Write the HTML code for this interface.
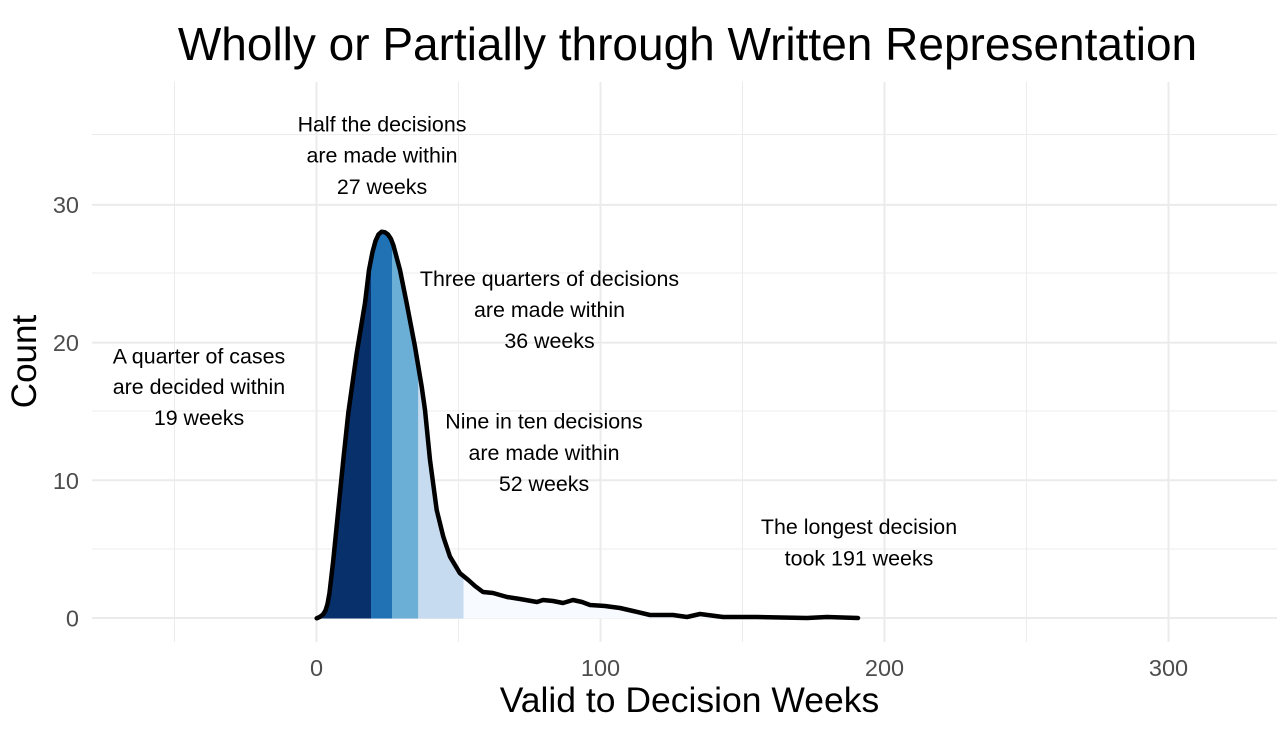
<!DOCTYPE html>
<html>
<head>
<meta charset="utf-8">
<style>
  html, body { margin: 0; padding: 0; background: #ffffff; }
  svg { display: block; }
  text { font-family: "Liberation Sans", Arial, sans-serif; }
</style>
</head>
<body>
<svg width="1277" height="734" viewBox="0 0 1277 734" xmlns="http://www.w3.org/2000/svg">
  <rect x="0" y="0" width="1277" height="734" fill="#ffffff"/>

  <!-- minor gridlines -->
  <g stroke="#ececec" stroke-width="1">
    <line x1="92" y1="134.5" x2="1277" y2="134.5"/>
    <line x1="92" y1="273" x2="1277" y2="273"/>
    <line x1="92" y1="411" x2="1277" y2="411"/>
    <line x1="92" y1="549" x2="1277" y2="549"/>
    <line x1="174.5" y1="82" x2="174.5" y2="642"/>
    <line x1="458.5" y1="82" x2="458.5" y2="642"/>
    <line x1="742.5" y1="82" x2="742.5" y2="642"/>
    <line x1="1026.5" y1="82" x2="1026.5" y2="642"/>
  </g>
  <!-- major gridlines -->
  <g stroke="#ebebeb" stroke-width="2">
    <line x1="92" y1="618" x2="1277" y2="618"/>
    <line x1="92" y1="480.3" x2="1277" y2="480.3"/>
    <line x1="92" y1="342.6" x2="1277" y2="342.6"/>
    <line x1="92" y1="204.9" x2="1277" y2="204.9"/>
    <line x1="316.5" y1="82" x2="316.5" y2="642"/>
    <line x1="600.5" y1="82" x2="600.5" y2="642"/>
    <line x1="884.5" y1="82" x2="884.5" y2="642"/>
    <line x1="1168.5" y1="82" x2="1168.5" y2="642"/>
  </g>

  <defs>
    <clipPath id="area">
      <path d="M316.7,618.3 L320,616.8 L323,614.5 L325.5,610.5 L327.5,604 L329.5,593 L333.3,560 L338.3,510 L343.3,460 L348.3,413 L356.7,353.3 L365,303 L369,270 L372.5,252 L375.5,241 L378.5,234.5 L381.7,231.7 L385,232.3 L388,234.5 L391,239 L393.3,245 L400,270 L406.7,303.3 L415,346.7 L421.7,386.7 L425,410 L430,460 L436.7,510 L443.3,536.7 L450,556.7 L460,573.3 L468.3,580 L475,586 L483,592 L493,593 L507,597 L520,599 L537,602 L543,600 L553,601 L563,603 L573,600 L582,602 L590,605 L605,606 L620,608 L633,611 L650,615 L673,615 L687,617 L700,614 L723,617 L757,617 L807,618 L827,617 L858,618 L858,618.5 L316.7,618.5 Z"/>
    </clipPath>
  </defs>

  <g clip-path="url(#area)">
    <rect x="310" y="200" width="61" height="420" fill="#08306b"/>
    <rect x="371" y="200" width="21" height="420" fill="#2171b5"/>
    <rect x="392" y="200" width="26.3" height="420" fill="#6baed6"/>
    <rect x="418.3" y="200" width="45.2" height="420" fill="#c6dbef"/>
    <rect x="463.5" y="200" width="400" height="420" fill="#f7fbff"/>
  </g>

  <!-- density curve -->
  <polyline fill="none" stroke="#000000" stroke-width="4.5" stroke-linejoin="round" stroke-linecap="round"
    points="316.7,618.3 320,616.8 323,614.5 325.5,610.5 327.5,604 329.5,593 333.3,560 338.3,510 343.3,460 348.3,413 356.7,353.3 365,303 369,270 372.5,252 375.5,241 378.5,234.5 381.7,231.7 385,232.3 388,234.5 391,239 393.3,245 400,270 406.7,303.3 415,346.7 421.7,386.7 425,410 430,460 436.7,510 443.3,536.7 450,556.7 460,573.3 468.3,580 475,586 483,592 493,593 507,597 520,599 537,602 543,600 553,601 563,603 573,600 582,602 590,605 605,606 620,608 633,611 650,615 673,615 687,617 700,614 723,617 757,617 807,618 827,617 858,618"/>

  <!-- title -->
  <text x="687.5" y="60" font-size="46" text-anchor="middle" fill="#000">Wholly or Partially through Written Representation</text>

  <!-- y tick labels -->
  <g font-size="23.5" fill="#4d4d4d" text-anchor="end">
    <text x="79" y="626.5">0</text>
    <text x="79" y="489">10</text>
    <text x="79" y="351">20</text>
    <text x="79" y="213">30</text>
  </g>
  <!-- x tick labels -->
  <g font-size="23.5" fill="#4d4d4d" text-anchor="middle">
    <text x="316.5" y="676">0</text>
    <text x="600.5" y="676">100</text>
    <text x="884.5" y="676">200</text>
    <text x="1168.5" y="676">300</text>
  </g>

  <!-- axis titles -->
  <text x="689.5" y="712" font-size="35.5" text-anchor="middle" fill="#000">Valid to Decision Weeks</text>
  <text transform="translate(36,361.5) rotate(-90)" font-size="35" text-anchor="middle" fill="#000">Count</text>

  <!-- annotations -->
  <g font-size="21.4" fill="#000" text-anchor="middle">
    <text x="382" y="131.7">Half the decisions</text>
    <text x="382" y="162.7">are made within</text>
    <text x="382" y="194">27 weeks</text>

    <text x="199" y="363.3">A quarter of cases</text>
    <text x="199" y="394">are decided within</text>
    <text x="199" y="425">19 weeks</text>

    <text x="549.5" y="286">Three quarters of decisions</text>
    <text x="549.5" y="317">are made within</text>
    <text x="549.5" y="348">36 weeks</text>

    <text x="544" y="428.5">Nine in ten decisions</text>
    <text x="544" y="460">are made within</text>
    <text x="544" y="491">52 weeks</text>

    <text x="859" y="534">The longest decision</text>
    <text x="859" y="565.5">took 191 weeks</text>
  </g>
</svg>
</body>
</html>
